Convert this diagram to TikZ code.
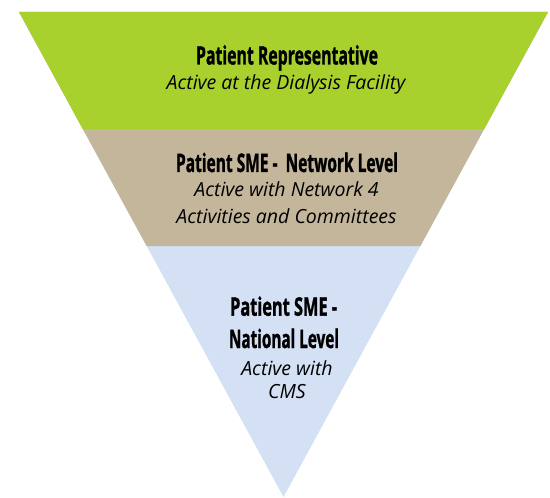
\documentclass[tikz,border=0pt]{standalone}
\usepackage{fontspec}
\usepackage{graphicx}
\setmainfont{Open Sans}
\newfontfamily\headfont[BoldFeatures={FakeBold=1.6}]{Open Sans}
\usetikzlibrary{calc}
\definecolor{bandgreen}{RGB}{169,209,45}
\definecolor{bandtan}{RGB}{196,182,155}
\definecolor{bandblue}{RGB}{212,224,244}
\newcommand{\hdline}[2]{\resizebox{#1}{\height}{\headfont\fontsize{25.5bp}{28bp}\selectfont\bfseries #2}}
\tikzset{
  head/.style={anchor=base, inner sep=0pt, text=black},
  sub/.style={anchor=base, inner sep=0pt, text=black, font=\fontsize{19.5bp}{22bp}\selectfont\itshape},
}
\begin{document}
\begin{tikzpicture}[x=1bp,y=-1bp]
\useasboundingbox (0,0) rectangle (550,498);
\coordinate (A) at (19,12);
\coordinate (B) at (548,12);
\coordinate (C) at (283.5,497);
\coordinate (L1) at ($(A)!0.2412!(C)$);
\coordinate (R1) at ($(B)!0.2412!(C)$);
\coordinate (L2) at ($(A)!0.4825!(C)$);
\coordinate (R2) at ($(B)!0.4825!(C)$);
\fill[bandblue] (A) -- (B) -- (C) -- cycle;
\fill[bandtan] (A) -- (B) -- (R2) -- (L2) -- cycle;
\fill[bandgreen] (A) -- (B) -- (R1) -- (L1) -- cycle;
% band 1
\node[head] (h1) at (287,64.5) {\hdline{182bp}{Patient Representative}};
\node[sub] (s1) at (286,90) {Active at the Dialysis Facility};
% band 2
\node[head] (h2) at (287,172) {\hdline{222bp}{Patient SME -\ \ Network Level}};
\node[sub] (s2a) at (286.5,197) {Active with Network 4};
\node[sub] (s2b) at (286.5,223) {Activities and Committees};
% band 3
\node[head] (h3a) at (283.6,315.7) {\hdline{107bp}{Patient SME -}};
\node[head] (h3b) at (284,348) {\hdline{110bp}{National Level}};
\node[sub] (s3a) at (287,375) {Active with};
\node[sub] (s3b) at (287,398.5) {CMS};
\end{tikzpicture}
\end{document}
